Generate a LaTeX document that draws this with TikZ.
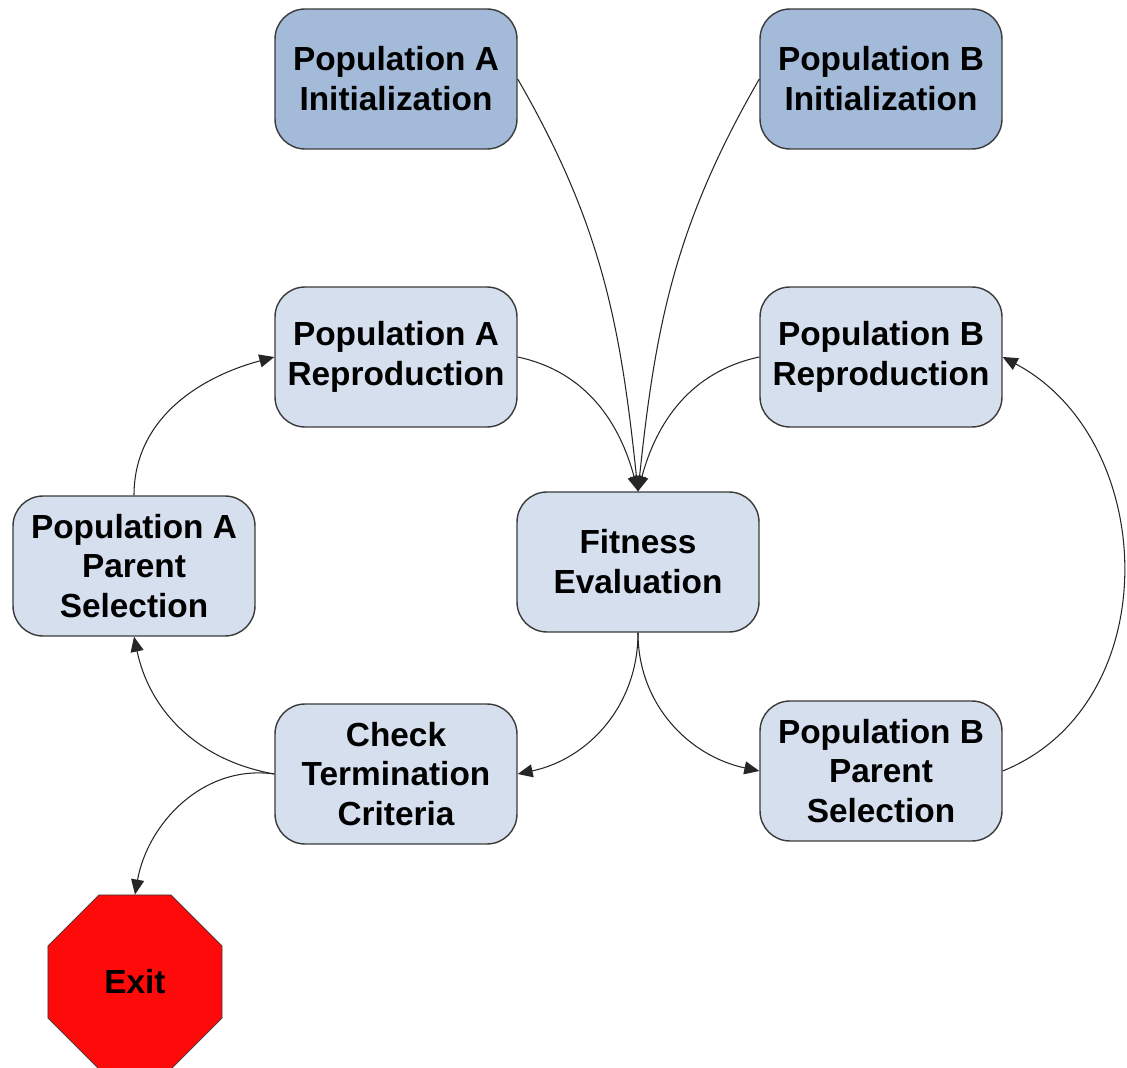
\documentclass[tikz,border=0pt]{standalone}
\usepackage{fontspec}
\setmainfont{Liberation Sans}
\usetikzlibrary{arrows.meta,shapes.geometric}
\definecolor{initblue}{HTML}{A4BAD9}
\definecolor{stepblue}{HTML}{D6DFEE}
\definecolor{stopred}{HTML}{FF0A0A}
\definecolor{edgegray}{HTML}{3A3A3A}

\begin{document}
\begin{tikzpicture}[x=0.02cm,y=0.02cm,
    box/.style={draw=edgegray,thick,rounded corners=0.6cm,minimum width=4.84cm,
      minimum height=2.8cm,align=center,font=\fontsize{19}{22.7}\selectfont\bfseries},
    initbox/.style={box,fill=initblue},
    stepbox/.style={box,fill=stepblue},
    exitsign/.style={regular polygon,regular polygon sides=8,minimum size=3.77cm,
      inner sep=0pt,draw=edgegray,fill=stopred,font=\fontsize{19}{22.7}\selectfont\bfseries},
    flow/.style={-{Triangle[length=0.3cm,width=0.26cm]},semithick,draw=black!85}]
    \useasboundingbox (0,0) rectangle (1127,-1068);
    % the two starting populations
    \node[initbox] (initA) at (396,-79) {Population A\\Initialization};
    \node[initbox] (initB) at (881,-79) {Population B\\Initialization};
    % the loop
    \node[stepbox] (reproA) at (396,-357) {Population A\\Reproduction};
    \node[stepbox] (reproB) at (881,-357) {Population B\\Reproduction};
    \node[stepbox] (fit) at (638,-562) {Fitness\\Evaluation};
    \node[stepbox] (selA) at (134,-566) {Population A\\Parent\\Selection};
    \node[stepbox] (check) at (396,-774) {Check\\Termination\\Criteria};
    \node[stepbox] (selB) at (881,-771) {Population B\\Parent\\Selection};
    \node[exitsign] (exit) at (135,-982) {Exit};
    % into the fitness evaluation
    \draw[flow] (initA.east) to[out=-60,in=96] (fit.north);
    \draw[flow] (initB.west) to[out=-120,in=84] (fit.north);
    \draw[flow] (reproA.east) to[out=-12,in=105] (fit.north);
    \draw[flow] (reproB.west) to[out=192,in=75] (fit.north);
    % out of it
    \draw[flow] (fit.south) to[out=-90,in=12] (check.east);
    \draw[flow] (fit.south) to[out=-90,in=168] (selB.west);
    \draw[flow] (selB.east) to[out=22,in=-28,looseness=1.1] (reproB.east);
    \draw[flow] (check.west) to[out=170,in=-78] (selA.south);
    \draw[flow] (check.west) to[out=172,in=80] (exit.north);
    \draw[flow] (selA.north) to[out=90,in=195] (reproA.west);
\end{tikzpicture}
\end{document}
